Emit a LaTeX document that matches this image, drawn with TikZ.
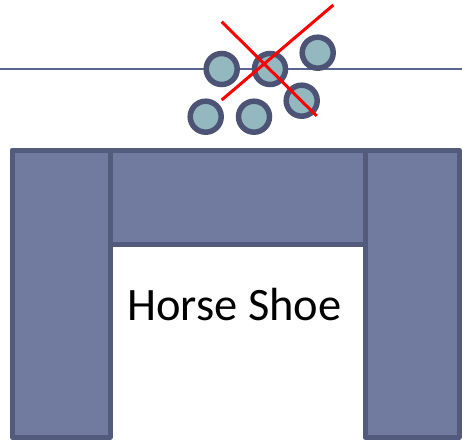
\documentclass[tikz,border=0pt]{standalone}
\usepackage{fontspec}
\setmainfont{Carlito}
\definecolor{blockfill}{HTML}{717BA0}
\definecolor{blockline}{HTML}{535B7C}
\definecolor{ballfill}{HTML}{94B8C0}
\definecolor{ballline}{HTML}{4C5375}
\definecolor{lineblue}{HTML}{5A6490}
\begin{document}
\begin{tikzpicture}[x=1pt,y=-1pt,
  block/.style={draw=blockline,fill=blockfill,line width=5pt,line join=round},
  ball/.style={circle,draw=ballline,fill=ballfill,line width=5.5pt,minimum size=31pt,inner sep=0pt},
  cross/.style={draw=red,line width=3pt}]
\useasboundingbox (0,0) rectangle (462,440);
\draw[lineblue,line width=1.5pt] (0,69) -- (462,69);
\draw[block] (12,150) rectangle (110,437);
\draw[block] (365,150) rectangle (459,437);
\draw[block] (110,150) rectangle (365,244);
\node[font=\fontsize{46.5}{50}\selectfont,anchor=base] (label) at (234.5,320) {Horse Shoe};
\node[ball] (b1) at (221.7,69) {};
\node[ball] (b2) at (270,69) {};
\node[ball] (b3) at (317.7,52.7) {};
\node[ball] (b4) at (205.7,116.7) {};
\node[ball] (b5) at (254,116.7) {};
\node[ball] (b6) at (301.7,100.7) {};
\coordinate (c1a) at (221.7,21.7);
\coordinate (c1b) at (316.7,116);
\coordinate (c2a) at (333.3,5);
\coordinate (c2b) at (221.7,100);
\draw[cross] (c1a) -- (c1b);
\draw[cross] (c2a) -- (c2b);
\end{tikzpicture}
\end{document}
